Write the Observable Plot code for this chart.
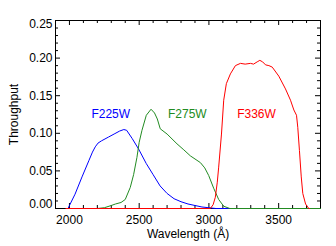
<!DOCTYPE html>
<html>
<head>
<meta charset="utf-8">
<script src="https://cdn.jsdelivr.net/npm/d3@7"></script>
<script src="https://cdn.jsdelivr.net/npm/@observablehq/plot@0.6"></script>
<style>
  html, body { margin: 0; padding: 0; background: #fff; }
</style>
</head>
<body>
<div id="chart"></div>
<script>
// F225W (blue)
const f225Wave = [1990, 2000, 2040, 2090, 2140, 2165, 2185, 2205, 2230, 2280, 2320, 2360, 2390, 2410, 2450, 2496, 2550, 2600, 2650, 2700, 2750, 2800, 2850, 2900, 2950, 3000, 3050, 3150];
const f225Thru = [0, 0.004, 0.019, 0.042, 0.064, 0.075, 0.082, 0.087, 0.090, 0.095, 0.099, 0.103, 0.105, 0.104, 0.093, 0.079, 0.060, 0.045, 0.030, 0.020, 0.013, 0.009, 0.006, 0.004, 0.002, 0.001, 0, 0];
// F275W (green)
const f275Wave = [2000, 2200, 2250, 2300, 2330, 2370, 2400, 2436, 2460, 2484, 2500, 2520, 2551, 2585, 2610, 2630, 2651, 2700, 2771, 2820, 2867, 2939, 2970, 2998, 3034, 3070, 3106, 3150, 3400, 3800];
const f275Thru = [0, 0, 0.001, 0.004, 0.006, 0.008, 0.012, 0.028, 0.045, 0.068, 0.088, 0.104, 0.124, 0.132, 0.127, 0.119, 0.106, 0.099, 0.086, 0.078, 0.070, 0.061, 0.054, 0.044, 0.027, 0.012, 0.003, 0, 0, 0];
// F336W (red)
const f336Wave = [1975, 3010, 3030, 3046, 3060, 3070, 3090, 3106, 3125, 3154, 3190, 3226, 3260, 3298, 3320, 3346, 3365, 3385, 3406, 3430, 3454, 3501, 3549, 3585, 3609, 3628, 3637, 3649, 3662, 3673, 3693, 3716, 3722];
const f336Thru = [0, 0, 0.005, 0.015, 0.035, 0.055, 0.099, 0.144, 0.166, 0.179, 0.190, 0.193, 0.192, 0.193, 0.192, 0.195, 0.197, 0.195, 0.191, 0.190, 0.188, 0.176, 0.159, 0.144, 0.131, 0.124, 0.108, 0.077, 0.042, 0.020, 0.006, 0, 0];

const seriesNames = ["F225W", "F275W", "F336W"];
const seriesColors = ["#0000ff", "#228b22", "#ff0000"];
const labelWave = [2296, 2845, 3341];
const labelThru = [0.126, 0.126, 0.126];

const xMajor = [2000, 2500, 3000, 3500];
const xMinor = d3.range(1900, 3801, 100).filter(v => v % 500 !== 0);
const yMajor = [0, 0.05, 0.10, 0.15, 0.20, 0.25];
const yMinor = d3.range(0, 26, 1).filter(v => v % 5 !== 0).map(v => v / 100);
const yTickLabels = ["0.00", "0.05", "0.10", "0.15", "0.20", "0.25"];

const W = 336, H = 246, mL = 55, mR = 16, mT = 20, mB = 38;
const pw = W - mL - mR, ph = H - mT - mB;
const majorLen = 5, minorLen = 3;

const toRows = (ws, ts, name) => ws.map((w, i) => ({w, t: ts[i], name}));
const rows225 = toRows(f225Wave, f225Thru, "F225W");
const rows275 = toRows(f275Wave, f275Thru, "F275W");
const rows336 = toRows(f336Wave, f336Thru, "F336W");
const labels = seriesNames.map((n, i) => ({name: n, w: labelWave[i], t: labelThru[i], c: seriesColors[i]}));
const yFmt = d => yTickLabels[yMajor.indexOf(d)];
const fontFamily = "'Liberation Sans', Arial, Helvetica, sans-serif";

const chart = Plot.plot({
  width: W, height: H,
  marginLeft: mL, marginRight: mR, marginTop: mT, marginBottom: mB,
  style: {fontFamily, fontSize: "12px", color: "#000", background: "#fff"},
  x: {domain: [1900, 3800]},
  y: {domain: [0, 0.25]},
  marks: [
    Plot.frame({stroke: "#000", strokeWidth: 1}),
    // inward ticks, bottom & top
    Plot.tickX(xMajor, {x: d => d, insetTop: ph - majorLen, stroke: "#000"}),
    Plot.tickX(xMinor, {x: d => d, insetTop: ph - minorLen, stroke: "#000"}),
    Plot.tickX(xMajor, {x: d => d, insetBottom: ph - majorLen, stroke: "#000"}),
    Plot.tickX(xMinor, {x: d => d, insetBottom: ph - minorLen, stroke: "#000"}),
    // inward ticks, left & right
    Plot.tickY(yMajor, {y: d => d, insetRight: pw - majorLen, stroke: "#000"}),
    Plot.tickY(yMinor, {y: d => d, insetRight: pw - minorLen, stroke: "#000"}),
    Plot.tickY(yMajor, {y: d => d, insetLeft: pw - majorLen, stroke: "#000"}),
    Plot.tickY(yMinor, {y: d => d, insetLeft: pw - minorLen, stroke: "#000"}),
    Plot.line(rows225, {x: "w", y: "t", stroke: seriesColors[0], strokeWidth: 1}),
    Plot.line(rows275, {x: "w", y: "t", stroke: seriesColors[1], strokeWidth: 1}),
    Plot.line(rows336, {x: "w", y: "t", stroke: seriesColors[2], strokeWidth: 1}),
    Plot.axisX({ticks: xMajor, tickSize: 0, tickPadding: 7, fontSize: 12, tickFormat: d => String(d), label: "Wavelength (Å)", labelAnchor: "center", labelOffset: 29, labelArrow: "none"}),
    Plot.axisY({ticks: yMajor.slice(1, -1), tickSize: 0, tickPadding: 3, fontSize: 12, tickFormat: yFmt, label: "Throughput", labelAnchor: "center", labelOffset: 46, labelArrow: "none"}),
    Plot.axisY({ticks: yMajor.slice(0, 1), tickSize: 0, tickPadding: 3, fontSize: 12, tickFormat: yFmt, label: null, dy: -4}),
    Plot.axisY({ticks: yMajor.slice(-1), tickSize: 0, tickPadding: 3, fontSize: 12, tickFormat: yFmt, label: null, dy: 4}),
    Plot.text(labels, {x: "w", y: "t", text: "name", fill: "c", fontSize: 12})
  ]
});
document.getElementById("chart").appendChild(chart);
</script>
</body>
</html>
